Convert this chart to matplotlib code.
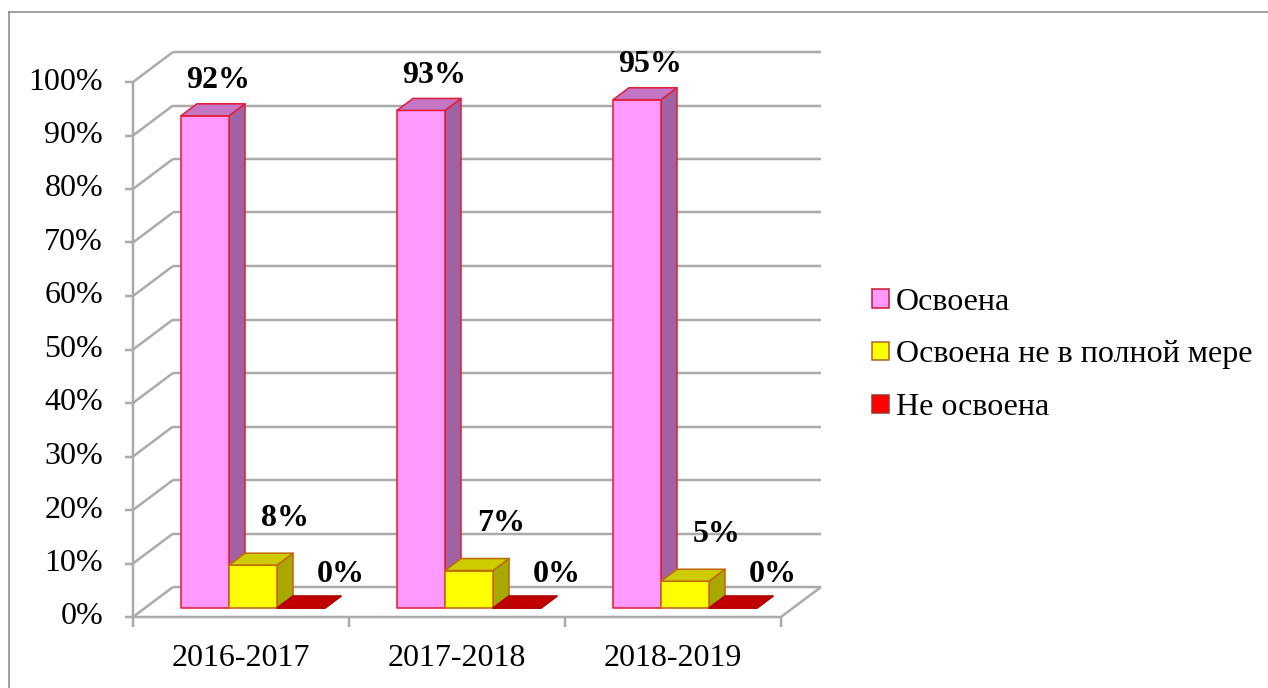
import matplotlib
matplotlib.use('Agg')
import matplotlib.pyplot as plt
from matplotlib.patches import Polygon, Patch
from matplotlib.lines import Line2D
from matplotlib.transforms import IdentityTransform
import numpy as np

# ---- data ----
years = ['2016-2017', '2017-2018', '2018-2019']
series_names = ['Освоена', 'Освоена не в полной мере', 'Не освоена']
osvoena = [92, 93, 95]
ne_polnoy = [8, 7, 5]
ne_osvoena = [0, 0, 0]
y_ticks = [0, 10, 20, 30, 40, 50, 60, 70, 80, 90, 100]
y_tick_labels = [f'{t}%' for t in y_ticks]

series_values = [osvoena, ne_polnoy, ne_osvoena]

# ---- styles ----
W, H, DPI = 1268, 688, 100
PX = 72.0 / DPI  # points per pixel
FONT = 'Liberation Serif'
FS = 23
GRID = '#ababab'

styles = [
    dict(front='#ff99ff', top='#c475c4', side='#a062a3', edge='#e0203c', leg_edge='#d01030'),
    dict(front='#ffff00', top='#cccc00', side='#a8a800', edge='#c06a10', leg_edge='#b06020'),
    dict(front='#ff0000', top='#c00000', side='#900000', edge='#b00000', leg_edge='#a03030'),
]
label_offsets = [(25, 44), (44, 56), (52, 42)]  # pixels (right, up) for data labels

fig = plt.figure(figsize=(W / DPI, H / DPI), dpi=DPI)
ax = fig.add_axes([133 / W, (H - 617) / H, (781 - 133) / W, (617 - 82) / H])
ax.set_xlim(0, len(years))
ax.set_ylim(0, 100)
ax.axis('off')

DEPTH = np.array([40.0, 30.0])  # display offset of the back wall
ID = IdentityTransform()


def P(x, y, d=0.0):
    return ax.transData.transform((x, y)) + d * DEPTH


def line(p0, p1, color=GRID, lw=2.5, z=1):
    ax.add_line(Line2D([p0[0], p1[0]], [p0[1], p1[1]], color=color,
                       lw=lw * PX, transform=ID, zorder=z, clip_on=False,
                       solid_capstyle='butt'))


n = len(years)
# back wall gridlines and left wall diagonals
for t in y_ticks:
    line(P(0, t, 1), P(n, t, 1))
    line(P(0, t, 0), P(0, t, 1))
    a = P(0, t, 0)
    line(a, a + np.array([-8, 0]))
# front axis, floor front edge, right diagonal
line(P(0, 0, 0), P(0, 100, 0))
line(P(0, 0, 0), P(n, 0, 0))
line(P(n, 0, 0), P(n, 0, 1))
for i in range(n + 1):
    a = P(i, 0, 0)
    line(a, a + np.array([0, -10]))

# bars
gap = 1 / 6
bw = 2 / 9
d0, d1 = 0.3, 0.7
z = 3
for i in range(n):
    for j, vals in enumerate(series_values):
        v = vals[i]
        st = styles[j]
        x0 = i + gap + j * bw
        x1 = x0 + bw
        front = [P(x0, 0, d0), P(x1, 0, d0), P(x1, v, d0), P(x0, v, d0)]
        top = [P(x0, v, d0), P(x1, v, d0), P(x1, v, d1), P(x0, v, d1)]
        side = [P(x1, 0, d0), P(x1, 0, d1), P(x1, v, d1), P(x1, v, d0)]
        for poly, fc in ((side, st['side']), (front, st['front']), (top, st['top'])):
            ax.add_patch(Polygon(poly, closed=True, facecolor=fc,
                                 edgecolor=st['edge'], lw=1.6 * PX,
                                 transform=ID, zorder=z, joinstyle='round',
                                 clip_on=False))
        z += 1
        ox, oy = label_offsets[j]
        ax.annotate(f'{v}%', xy=(x0 + bw / 2, v), xycoords='data',
                    xytext=(ox * PX, oy * PX), textcoords='offset points',
                    ha='center', va='center', fontsize=FS, fontweight='bold',
                    family=FONT, color='black', zorder=50, annotation_clip=False)

# y tick labels
for t, lab in zip(y_ticks, y_tick_labels):
    ax.annotate(lab, xy=(0, t), xycoords='data', xytext=(-30 * PX, 0),
                textcoords='offset points', ha='right', va='center',
                fontsize=FS, family=FONT, annotation_clip=False)
# category labels
for i, yr in enumerate(years):
    ax.annotate(yr, xy=(i + 0.5, 0), xycoords='data', xytext=(0, -41 * PX),
                textcoords='offset points', ha='center', va='center',
                fontsize=FS, family=FONT, annotation_clip=False)

# legend
handles = [Patch(facecolor=styles[j]['front'], edgecolor=styles[j]['leg_edge'],
                 lw=1.5 * PX) for j in range(3)]
fig.legend(handles, series_names, loc='center left',
           bbox_to_anchor=(872 / W, 1 - 355 / H), frameon=False,
           prop=dict(family=FONT, size=FS), handlelength=0.52,
           handleheight=0.52, handletextpad=0.22, labelspacing=0.75,
           borderpad=0, borderaxespad=0)

# outer frame (left and top edges visible)
fig.add_artist(Line2D([9, 9], [0, H - 12], color='#8c8c8c', lw=1.6 * PX, transform=ID))
fig.add_artist(Line2D([9, W], [H - 12, H - 12], color='#8c8c8c', lw=1.6 * PX, transform=ID))

fig.savefig('out.png', dpi=DPI)
